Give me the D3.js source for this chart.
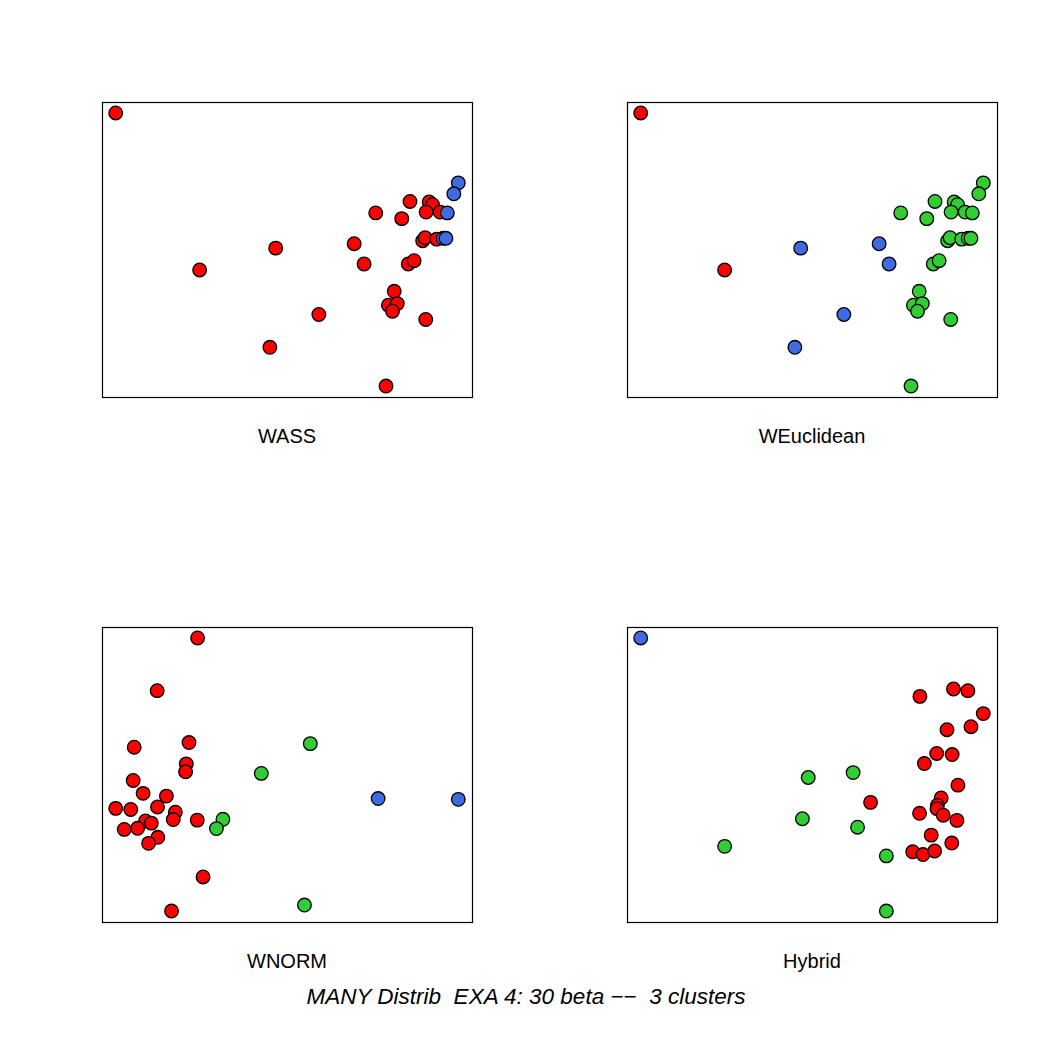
<!DOCTYPE html>
<html>
<head>
<meta charset="utf-8">
<script src="https://cdn.jsdelivr.net/npm/d3@7"></script>
<style>
  body { margin: 0; background: #fff; }
  text { font-family: "Liberation Sans", Arial, Helvetica, sans-serif; white-space: pre; }
</style>
</head>
<body>
<div id="chart"></div>
<script>
"use strict";

// panel titles, in drawing order (row by row)
var panelNames = ["WASS", "WEuclidean", "WNORM", "Hybrid"];
var mainTitle = "MANY Distrib  EXA 4: 30 beta \u2212\u2212  3 clusters";

// cluster colours (1 = red, 2 = green, 3 = blue)
var clusterColors = ["#ff0000", "#32cd32", "#4169e1"];

// the two top panels share the same layout
var layoutX = [0, 24.5, 46.7, 45.0, 59.3, 78.9, 69.6, 72.5, 75.9, 85.9,
               83.5, 91.5, 92.5, 90.6, 94.7, 96.8, 100, 98.7, 89.6, 90.3,
               93.7, 95.6, 96.4, 85.4, 87.1, 81.3, 79.6, 82.2, 80.8, 90.5];
var layoutY = [100, 42.5, 50.5, 14.2, 26.2, 0, 52.1, 44.7, 63.4, 67.6,
               61.3, 67.4, 66.4, 63.7, 63.7, 63.4, 74.4, 70.4, 53.2, 54.3,
               53.8, 54.1, 54.1, 44.7, 45.9, 34.7, 29.6, 30.2, 27.4, 24.4];
var wassCluster = [1, 1, 1, 1, 1, 1, 1, 1, 1, 1,
                   1, 1, 1, 1, 1, 3, 3, 3, 1, 1,
                   1, 3, 3, 1, 1, 1, 1, 1, 1, 1];
var weucCluster = [1, 1, 3, 3, 3, 2, 3, 3, 2, 2,
                   2, 2, 2, 2, 2, 2, 2, 2, 2, 2,
                   2, 2, 2, 2, 2, 2, 2, 2, 2, 2];

var wnormX = [23.9, 12.1, 5.4, 21.4, 20.6, 20.4, 5.1, 8.0, 14.8, 0,
              4.4, 12.2, 17.4, 16.8, 23.8, 8.7, 10.4, 2.5, 6.4, 12.3,
              9.6, 25.5, 16.3, 31.3, 29.4, 42.5, 56.8, 55.1, 76.6, 100];
var wnormY = [100, 80.7, 60.0, 61.7, 53.9, 51.0, 47.8, 43.1, 42.1, 37.6,
              37.2, 38.1, 36.2, 33.5, 33.3, 33.0, 32.2, 29.9, 30.3, 27.0,
              24.8, 12.5, 0, 33.6, 30.2, 50.4, 61.3, 2.2, 41.2, 40.9];
var wnormCluster = [1, 1, 1, 1, 1, 1, 1, 1, 1, 1,
                    1, 1, 1, 1, 1, 1, 1, 1, 1, 1,
                    1, 1, 1, 2, 2, 2, 2, 2, 3, 3];

var hybridX = [0, 24.5, 48.9, 47.2, 62.0, 63.3, 67.1, 71.7, 71.7, 81.5,
               91.3, 95.5, 100, 96.4, 89.4, 86.4, 90.9, 82.8, 92.6, 87.7,
               86.6, 86.5, 81.4, 88.3, 92.3, 84.8, 90.8, 79.4, 82.4, 85.8];
var hybridY = [100, 23.7, 48.9, 33.8, 50.7, 30.7, 39.8, 20.2, 0, 78.6,
               81.3, 80.7, 72.3, 67.5, 66.4, 57.7, 57.3, 54.0, 46.1, 41.4,
               38.7, 37.5, 35.8, 35.1, 33.2, 27.8, 24.9, 21.7, 20.7, 22.0];
var hybridCluster = [3, 2, 2, 2, 2, 2, 1, 2, 2, 1,
                     1, 1, 1, 1, 1, 1, 1, 1, 1, 1,
                     1, 1, 1, 1, 1, 1, 1, 1, 1, 1];

var panelX = [layoutX, layoutX, wnormX, hybridX];
var panelY = [layoutY, layoutY, wnormY, hybridY];
var panelCluster = [wassCluster, weucCluster, wnormCluster, hybridCluster];

var W = 1050, H = 1050;
var boxW = 370, boxH = 295;
var boxLeft = [102, 627], boxTop = [102, 627];

var svg = d3.select("#chart")
            .append("svg")
            .attr("width", W)
            .attr("height", H);

svg.append("rect").attr("width", W).attr("height", H).attr("fill", "#fff");

// R style axis padding: 4% on each side
function padded(vals) {
  var ext = d3.extent(vals), r = ext[1] - ext[0];
  return [ext[0] - 0.04 * r, ext[1] + 0.04 * r];
}

panelNames.forEach(function(name, k) {
  var col = k % 2, row = Math.floor(k / 2);
  var x0 = boxLeft[col], y0 = boxTop[row];

  var xScale = d3.scaleLinear().domain(padded(panelX[k])).range([x0, x0 + boxW]);
  var yScale = d3.scaleLinear().domain(padded(panelY[k])).range([y0 + boxH, y0]);

  var pts = panelX[k].map(function(v, i) {
    return { x: v, y: panelY[k][i], c: panelCluster[k][i] };
  });

  var g = svg.append("g");

  g.selectAll("circle")
   .data(pts)
   .enter()
   .append("circle")
   .attr("cx", function(d) { return xScale(d.x); })
   .attr("cy", function(d) { return yScale(d.y); })
   .attr("r", 6.8)
   .attr("fill", function(d) { return clusterColors[d.c - 1]; })
   .attr("stroke", "#000")
   .attr("stroke-width", 1.3);

  g.append("rect")
   .attr("x", x0 + 0.5)
   .attr("y", y0 + 0.5)
   .attr("width", boxW)
   .attr("height", boxH)
   .attr("fill", "none")
   .attr("stroke", "#000")
   .attr("stroke-width", 1.2);

  g.append("text")
   .attr("x", x0 + boxW / 2)
   .attr("y", y0 + boxH + 46)
   .attr("text-anchor", "middle")
   .attr("font-size", "20px")
   .text(name);
});

svg.append("text")
   .attr("x", 526)
   .attr("y", 1004)
   .attr("text-anchor", "middle")
   .attr("font-size", "22.5px")
   .attr("font-style", "italic")
   .text(mainTitle);
</script>
</body>
</html>
